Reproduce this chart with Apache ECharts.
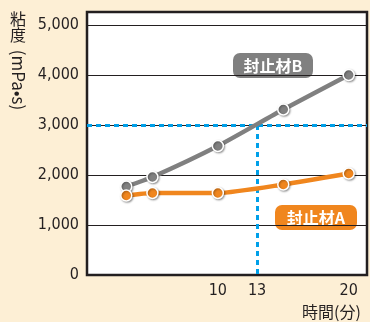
<!DOCTYPE html>
<html><head><meta charset="utf-8">
<script src="https://cdn.jsdelivr.net/npm/echarts@6/dist/echarts.min.js"></script>
<style>html,body{margin:0;padding:0;background:#fdefd5;}#c{width:370px;height:322px;}</style>
</head><body><div id="c"></div>
<script>
// data
const timeMin = [3, 5, 10, 15, 20];
const sealA = [1590, 1640, 1640, 1810, 2030];
const sealB = [1770, 1960, 2580, 3310, 4000];
const xTickValues = [10, 13, 20];
const yTicks = [0, 1000, 2000, 3000, 4000, 5000];
const refViscosity = 3000;
const refTime = 13;
const nameA = '封止材A', nameB = '封止材B';
const yTitleCJK = '粘度', yTitleUnit = '(mPa•s)', xTitle = '時間(分)';

const numFont = "'Liberation Sans Narrow','DejaVu Sans Condensed',sans-serif";
const chart = echarts.init(document.getElementById('c'));
const pts = arr => timeMin.map((t, i) => [t, arr[i]]);
const hidden = {axisLine: {show: false}, axisTick: {show: false}, axisLabel: {show: false}, splitLine: {show: false}};
chart.setOption({
  animation: false,
  backgroundColor: '#fdefd5',
  grid: [
    {left: 87, right: 3, top: 12, bottom: 47, show: true, backgroundColor: '#ffffff', borderColor: '#231f20', borderWidth: 2.5, containLabel: false},
    {left: 87, right: 3, top: 44, bottom: 206, show: false, containLabel: false}
  ],
  xAxis: [
    {
      type: 'value', min: 0, max: 21.4, gridIndex: 0,
      axisLine: {show: false}, axisTick: {show: false}, splitLine: {show: false},
      axisLabel: {customValues: xTickValues, margin: 8, fontSize: 16, color: '#231f20', fontFamily: numFont,
        formatter: v => String(Math.round(v))}
    },
    Object.assign({type: 'value', gridIndex: 1, show: false}, hidden)
  ],
  yAxis: [
    {
      type: 'value', min: 0, max: 5260, interval: 1000, gridIndex: 0,
      axisLine: {show: false}, axisTick: {show: false},
      splitLine: {show: true, lineStyle: {color: '#231f20', width: 1}},
      axisLabel: {showMaxLabel: false, margin: 8, fontSize: 16, color: '#231f20', fontFamily: numFont,
        formatter: v => yTicks.includes(v) ? v.toLocaleString('en-US') : ''}
    },
    Object.assign({
      type: 'value', gridIndex: 1, min: 0, max: 1,
      name: yTitleUnit, nameLocation: 'middle', nameRotate: -90, nameGap: 60,
      nameTextStyle: {fontSize: 17, color: '#231f20', fontFamily: 'Noto Sans CJK JP'}
    }, hidden)
  ],
  series: [
    {
      name: nameB, type: 'line', data: pts(sealB), smooth: 0.2,
      symbol: 'circle', symbolSize: 11, z: 3,
      lineStyle: {color: '#808080', width: 4.5},
      itemStyle: {color: '#808080', borderColor: '#ffffff', borderWidth: 1.5, shadowColor: 'rgba(0,0,0,0.35)', shadowBlur: 2, shadowOffsetX: 1, shadowOffsetY: 1}
    },
    {
      name: nameA, type: 'line', data: pts(sealA), smooth: 0.2,
      symbol: 'circle', symbolSize: 11, z: 4,
      lineStyle: {color: '#f0861e', width: 4.5},
      itemStyle: {color: '#f0861e', borderColor: '#ffffff', borderWidth: 1.5, shadowColor: 'rgba(0,0,0,0.35)', shadowBlur: 2, shadowOffsetX: 1, shadowOffsetY: 1},
      markLine: {
        silent: true, symbol: 'none', z: 2, label: {show: false},
        lineStyle: {color: '#00a0e9', width: 3, type: [5, 4]},
        data: [
          {yAxis: refViscosity},
          [{coord: [refTime, refViscosity]}, {coord: [refTime, 0]}]
        ]
      }
    }
  ],
  graphic: [
    {type: 'text', x: 10, y: 11, style: {text: yTitleCJK.split('').join('\n'), fontSize: 16, fontFamily: 'Noto Sans CJK JP', fill: '#231f20', lineHeight: 16}},
    {type: 'text', x: 302, y: 304, style: {text: xTitle, fontSize: 16, fontFamily: 'Noto Sans CJK JP', fill: '#231f20'}},
    {type: 'group', x: 233, y: 53, children: [
      {type: 'rect', shape: {x: 0, y: 0, width: 80, height: 25, r: 7}, style: {fill: '#808080'}},
      {type: 'text', x: 40, y: 13, style: {text: nameB, fontSize: 16, fontWeight: 'bold', fontFamily: 'Noto Sans CJK JP', fill: '#ffffff', align: 'center', verticalAlign: 'middle'}}
    ]},
    {type: 'group', x: 275, y: 205, children: [
      {type: 'rect', shape: {x: 0, y: 0, width: 82, height: 25, r: 7}, style: {fill: '#f0861e'}},
      {type: 'text', x: 41, y: 13, style: {text: nameA, fontSize: 16, fontWeight: 'bold', fontFamily: 'Noto Sans CJK JP', fill: '#ffffff', align: 'center', verticalAlign: 'middle'}}
    ]}
  ]
});
</script></body></html>
